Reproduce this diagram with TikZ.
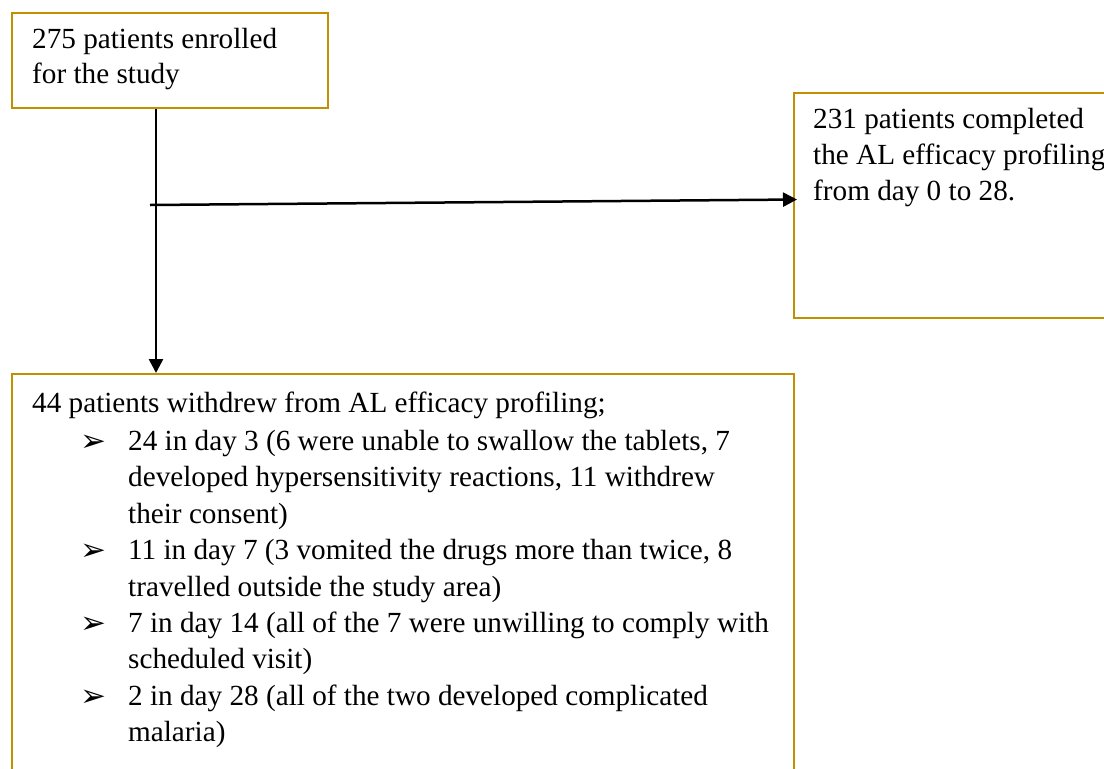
\documentclass[tikz,border=0pt]{standalone}
\usepackage{fontspec}
\setmainfont{Liberation Serif}
\newfontfamily\bulfont{DejaVu Sans}
\usetikzlibrary{arrows.meta}
\definecolor{boxgold}{HTML}{BF9000}
\tikzset{
  flowbox/.style={draw=boxgold, line width=2pt, inner sep=0pt, anchor=north west},
  txt/.style={anchor=base west, inner sep=0pt, font=\fontsize{29.2}{36}\selectfont},
  arr/.style={line width=2.5pt, -{Triangle[length=14pt,width=14pt]}},
}
\newcommand\bul{\hskip48pt\makebox[48pt][l]{\bulfont\fontsize{31}{31}\selectfont\raisebox{-1pt}{➢}}}
\newcommand\ind{\hskip96pt}
\begin{document}
\begin{tikzpicture}[x=1pt,y=-1pt]
\useasboundingbox (0,0) rectangle (1104,769);
\clip (0,0) rectangle (1104,769);
% boxes
\node[flowbox, minimum width=316pt, minimum height=95pt] (box1) at (11,12) {};
\node[flowbox, minimum width=340pt, minimum height=225pt] (box2) at (793,92) {};
\node[flowbox, minimum width=782pt, minimum height=420pt] (box3) at (11,373) {};
% texts
\node[txt] (t1) at (32,48) {\vtop{\baselineskip=35pt
  \hbox{275 patients enrolled}
  \hbox{for the study}}};
\node[txt] (t2) at (813,128) {\vtop{\baselineskip=36pt
  \hbox{231 patients completed}
  \hbox{the AL efficacy profiling}
  \hbox{from day 0 to 28.}}};
\node[txt] (t3) at (32,412) {\vtop{\baselineskip=36.4pt
  \hbox{44 patients withdrew from AL efficacy profiling;}
  \vskip2pt
  \hbox{\bul 24 in day 3 (6 were unable to swallow the tablets, 7}
  \hbox{\ind developed hypersensitivity reactions, 11 withdrew}
  \hbox{\ind their consent)}
  \hbox{\bul 11 in day 7 (3 vomited the drugs more than twice, 8}
  \hbox{\ind travelled outside the study area)}
  \hbox{\bul 7 in day 14 (all of the 7 were unwilling to comply with}
  \hbox{\ind scheduled visit)}
  \hbox{\bul 2 in day 28 (all of the two developed complicated}
  \hbox{\ind malaria)}}};
% connectors
\coordinate (hstart) at (150,205);
\draw[arr] ([xshift=145pt]box1.south west) -- ([xshift=145pt]box3.north west);
\draw[arr] (hstart) -- ([xshift=4pt,yshift=6pt]box2.west);
\end{tikzpicture}
\end{document}
